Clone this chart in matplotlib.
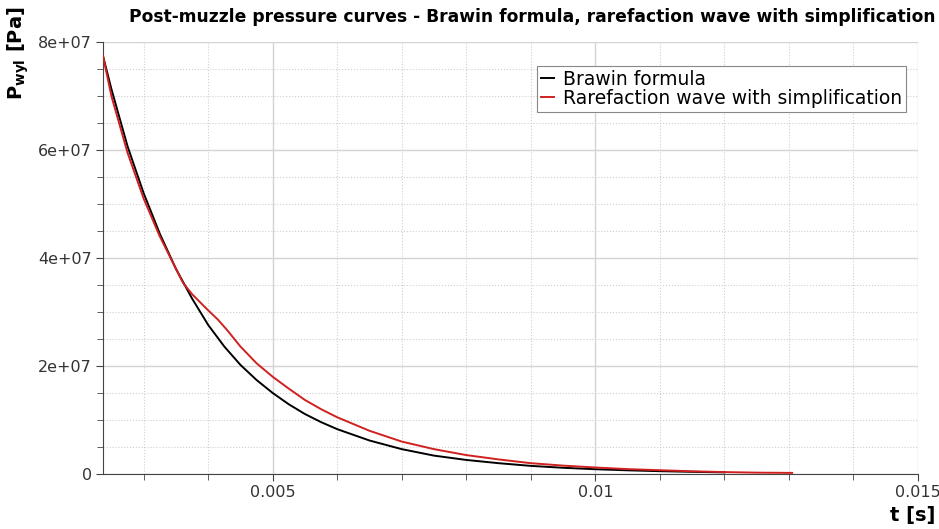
import numpy as np
import matplotlib
matplotlib.use("Agg")
import matplotlib.pyplot as plt
import matplotlib.transforms as mtransforms
from matplotlib.ticker import MultipleLocator, FuncFormatter

# values (time in ms, pressure in 1e7 Pa)
brawin_t_ms = [2.37, 2.5, 2.75, 3.0, 3.25, 3.5, 3.75, 4.0, 4.25, 4.5, 4.75, 5.0,
               5.25, 5.5, 5.75, 6.0, 6.5, 7.0, 7.5, 8.0, 8.5, 9.0, 9.5, 10.0,
               10.5, 11.0, 11.5, 12.0]
brawin_p = [7.74, 7.13, 6.07, 5.2, 4.45, 3.8, 3.25, 2.76, 2.36, 2.02, 1.74, 1.50,
            1.29, 1.11, 0.96, 0.83, 0.62, 0.46, 0.34, 0.26, 0.20, 0.15, 0.115, 0.088,
            0.068, 0.052, 0.04, 0.03]

rare_t_ms = [2.37, 2.5, 2.75, 3.0, 3.25, 3.5, 3.61, 3.75, 4.0, 4.15, 4.29, 4.5,
             4.75, 5.0, 5.25, 5.5, 5.75, 6.0, 6.5, 7.0, 7.5, 8.0, 8.5, 9.0, 9.5,
             10.0, 10.5, 11.0, 11.5, 12.0, 12.5, 13.05]
rare_p = [7.74, 7.0, 5.95, 5.1, 4.4, 3.8, 3.54, 3.33, 3.03, 2.86, 2.67, 2.36,
          2.05, 1.80, 1.58, 1.37, 1.2, 1.05, 0.80, 0.60, 0.46, 0.35, 0.27, 0.20, 0.155,
          0.12, 0.09, 0.07, 0.05, 0.035, 0.025, 0.02]

labels = ["Brawin formula", "Rarefaction wave with simplification"]

fig = plt.figure(figsize=(9.39, 5.29), dpi=100)
ax = fig.add_axes([0.1097, 0.104, 0.8679, 0.8166])

ax.plot(np.array(brawin_t_ms) * 1e-3, np.array(brawin_p) * 1e7,
        color="black", lw=1.4, label=labels[0], zorder=3)
ax.plot(np.array(rare_t_ms) * 1e-3, np.array(rare_p) * 1e7,
        color="#d02020", lw=1.4, label=labels[1], zorder=3)

ax.set_xlim(0.00237, 0.015)
ax.set_ylim(0, 8e7)

ax.xaxis.set_major_locator(MultipleLocator(0.005))
ax.xaxis.set_minor_locator(MultipleLocator(0.001))
ax.yaxis.set_major_locator(MultipleLocator(2e7))
ax.yaxis.set_minor_locator(MultipleLocator(5e6))
ax.xaxis.set_major_formatter(FuncFormatter(lambda v, p: f"{v:g}"))
ax.yaxis.set_major_formatter(FuncFormatter(lambda v, p: "0" if v == 0 else f"{v:.0e}"))

ax.grid(which="major", color="#d4d4d4", lw=1.0, ls="-")
ax.grid(which="minor", color="#cfcfcf", lw=0.8, ls=":")
ax.set_axisbelow(True)

for s in ["top", "right"]:
    ax.spines[s].set_visible(False)
for s in ["left", "bottom"]:
    ax.spines[s].set_color("#444444")
ax.tick_params(which="both", direction="out", color="#444444",
               labelcolor="#333333", labelsize=11.5, length=5, pad=3)
ax.tick_params(which="minor", length=4)

# nudge the last x label so it stays inside the figure, as in the reference
fig.canvas.draw()
xlabels = ax.get_xticklabels()
if xlabels:
    shift = mtransforms.ScaledTranslation(-6 / 100, 0, fig.dpi_scale_trans)
    xlabels[-1].set_transform(xlabels[-1].get_transform() + shift)

leg = ax.legend(loc="upper right", bbox_to_anchor=(906 / 939, 1 - 66 / 529),
                bbox_transform=fig.transFigure, fancybox=False, framealpha=1,
                edgecolor="#888888", fontsize=13.5, handlelength=0.7,
                handletextpad=0.5, borderpad=0.2, labelspacing=0.0,
                borderaxespad=0)
leg.get_frame().set_linewidth(0.8)

fig.text(0.996, 1 - 17 / 529, "Post-muzzle pressure curves - Brawin formula, rarefaction wave with simplification",
         ha="right", va="center", fontsize=12.3, fontweight="bold")
fig.text(18 / 939, 1 - 6 / 529, r"$\mathbf{P_{wyl}}$ [Pa]", rotation=90,
         ha="center", va="top", fontsize=14, fontweight="bold")
fig.text(0.996, 1 - 515 / 529, "t [s]", ha="right", va="center",
         fontsize=14, fontweight="bold")

fig.savefig("out.png", dpi=100)
